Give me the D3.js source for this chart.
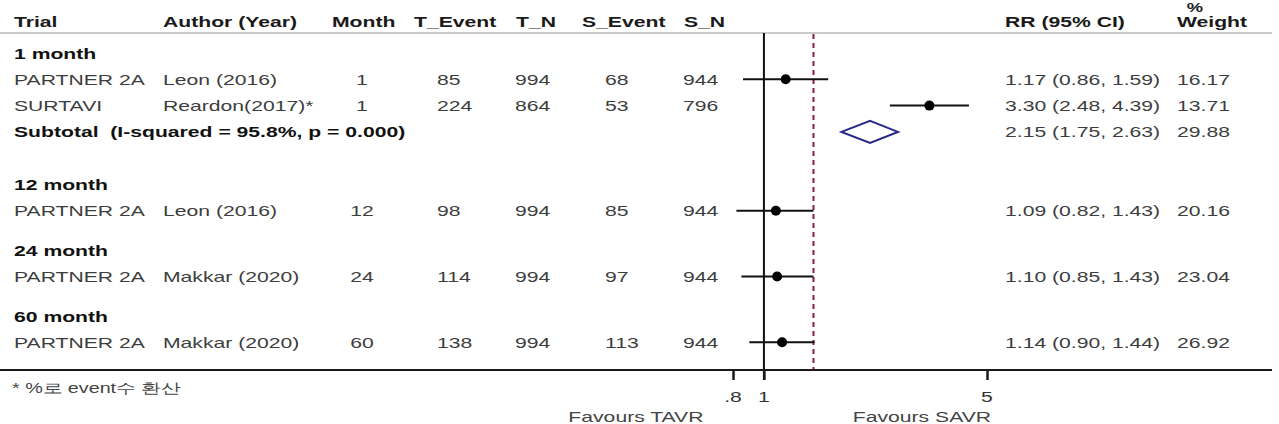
<!DOCTYPE html>
<html><head><meta charset="utf-8">
<script src="https://cdn.jsdelivr.net/npm/d3@7"></script>
<style>
body{margin:0;background:#fff;}
text{font-family:"Liberation Sans",Arial,sans-serif;white-space:pre;}
</style></head>
<body><svg id="c" width="1279" height="424"></svg>
<script>
// ---- data ----
const headers = ["Trial","Author (Year)","Month","T_Event","T_N","S_Event","S_N","RR (95% CI)","Weight"];
const groups = ["1 month","12 month","24 month","60 month"];
const trials = ["PARTNER 2A","SURTAVI","PARTNER 2A","PARTNER 2A","PARTNER 2A"];
const authors = ["Leon (2016)","Reardon(2017)*","Leon (2016)","Makkar (2020)","Makkar (2020)"];
const months = [1,1,12,24,60];
const tEvent = [85,224,98,114,138];
const tN = [994,864,994,994,994];
const sEvent = [68,53,85,97,113];
const sN = [944,796,944,944,944];
const rr = [1.17,3.30,1.09,1.10,1.14];
const lo = [0.86,2.48,0.82,0.85,0.90];
const hi = [1.59,4.39,1.43,1.43,1.44];
const weight = ["16.17","13.71","20.16","23.04","26.92"];
const subLabel = "Subtotal  (I-squared = 95.8%, p = 0.000)";
const subRR = 2.15, subLo = 1.75, subHi = 2.63, subWeight = "29.88";
const overall = 1.43;
const xTicks = [0.8, 1, 5];
const xTickLabels = [".8","1","5"];
const footnote = "* %로 event수 환산";
const favours = ["Favours TAVR","Favours SAVR"];

// row layout: [type, index, gap-before]
const rows = [
  ["group",0,0],["study",0,0],["study",1,0],["sub",0,0],
  ["group",1,1],["study",2,0],
  ["group",2,0.5],["study",3,0],
  ["group",3,0.5],["study",4,0]
];
let slot = -1;
rows.forEach(r => { slot += 1 + r[2]; r.push(slot); });

// ---- drawing ----
const svg = d3.select("#c");
const SX = 1.41, FS = 15;
const x = d3.scaleLog().domain([0.8,5]).range([733,987]);
const y = d3.scaleLinear().domain([0,11]).range([53,342.3]);

function txt(g, s, px, py, opt={}) {
  return g.append("text")
    .attr("transform", `translate(${px},${py}) scale(${SX},1)`)
    .attr("text-anchor", opt.anchor || "start")
    .attr("font-size", opt.size || FS)
    .attr("font-weight", opt.bold ? "bold" : "normal")
    .attr("fill", opt.fill || "#3d3d3d")
    .text(s);
}

const colX = [14,163,332,414,516,582,684,1005,1177];
const valX = {trial:14, author:163, month:362, tE:437, tN:515, sE:605, sN:683, rr:1005, w:1177};

// header
headers.forEach((h,i)=> txt(svg, h, colX[i], 27, {bold:true, fill:"#1a1a1a"}));
txt(svg, "%", 1195, 12, {bold:true, fill:"#1a1a1a", anchor:"middle", size:13});
svg.append("line").attr("x1",0).attr("x2",1272).attr("y1",33).attr("y2",33)
  .attr("stroke","#b8b8b8").attr("stroke-width",1.5);

// reference lines
svg.append("line").attr("x1",x(1)).attr("x2",x(1)).attr("y1",33).attr("y2",380)
  .attr("stroke","#111").attr("stroke-width",2);
svg.append("line").attr("x1",x(overall)).attr("x2",x(overall)).attr("y1",34).attr("y2",369)
  .attr("stroke","#8b1c3c").attr("stroke-width",2).attr("stroke-dasharray","5,4");

const tb = 5.5; // text baseline offset from row centre
rows.forEach(r => {
  const [type, i, , s] = r;
  const cy = y(s);
  if (type === "group") {
    txt(svg, groups[i], 14, cy+tb, {bold:true, fill:"#111"});
  } else if (type === "study") {
    txt(svg, trials[i], valX.trial, cy+tb);
    txt(svg, authors[i], valX.author, cy+tb);
    txt(svg, String(months[i]), valX.month, cy+tb, {anchor:"middle"});
    txt(svg, String(tEvent[i]), valX.tE, cy+tb);
    txt(svg, String(tN[i]), valX.tN, cy+tb);
    txt(svg, String(sEvent[i]), valX.sE, cy+tb);
    txt(svg, String(sN[i]), valX.sN, cy+tb);
    txt(svg, `${rr[i].toFixed(2)} (${lo[i].toFixed(2)}, ${hi[i].toFixed(2)})`, valX.rr, cy+tb);
    txt(svg, weight[i], valX.w, cy+tb);
    svg.append("line").attr("x1",x(lo[i])).attr("x2",x(hi[i])).attr("y1",cy).attr("y2",cy)
      .attr("stroke","#111").attr("stroke-width",2);
    svg.append("circle").attr("cx",x(rr[i])).attr("cy",cy).attr("r",5).attr("fill","#000");
  } else {
    txt(svg, subLabel, 14, cy+tb, {bold:true, fill:"#111"});
    txt(svg, `${subRR.toFixed(2)} (${subLo.toFixed(2)}, ${subHi.toFixed(2)})`, valX.rr, cy+tb);
    txt(svg, subWeight, valX.w, cy+tb);
    const h = 11;
    const pts = [[x(subLo),cy],[x(subRR),cy-h],[x(subHi),cy],[x(subRR),cy+h]];
    svg.append("polygon").attr("points", pts.map(p=>p.join(",")).join(" "))
      .attr("fill","#fff").attr("stroke","#27278a").attr("stroke-width",2);
  }
});

// axis
svg.append("line").attr("x1",0).attr("x2",1272).attr("y1",370).attr("y2",370)
  .attr("stroke","#1a1a1a").attr("stroke-width",2);
const axis = d3.axisBottom(x).tickValues(xTicks).tickFormat("").tickSizeOuter(0).tickSizeInner(10);
const ag = svg.append("g").attr("transform","translate(0,370)").call(axis);
ag.select(".domain").remove();
ag.selectAll(".tick line").attr("stroke","#1a1a1a").attr("stroke-width",2.5);
xTicks.forEach((t,i)=> txt(svg, xTickLabels[i], x(t), 402, {anchor:"middle", fill:"#333"}));

txt(svg, favours[0], x(1)-128, 422, {anchor:"middle", fill:"#444"});
txt(svg, favours[1], x(1)+158, 422, {anchor:"middle", fill:"#444"});

txt(svg, footnote, 12, 393, {size:14, fill:"#444"});
</script></body></html>
